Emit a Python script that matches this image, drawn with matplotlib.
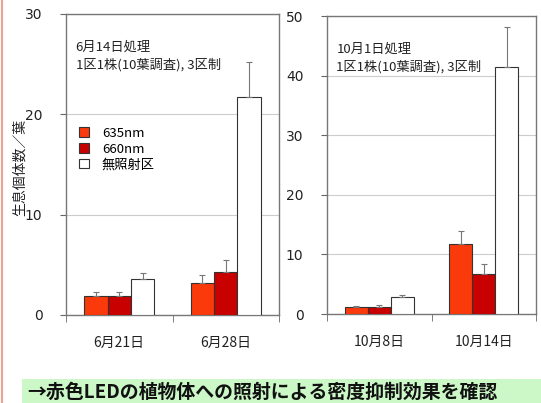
import matplotlib.pyplot as plt
import matplotlib.patches as mpatches
import numpy as np

plt.rcParams['font.family'] = ['Noto Sans CJK JP', 'DejaVu Sans']

# treatment series
series = ['635nm', '660nm', '無照射区']
colors = ['#FA3A0A', '#C80000', '#FFFFFF']

# June trial
jun_days = ['6月21日', '6月28日']
jun_mean = [[1.9, 3.2], [1.9, 4.3], [3.6, 21.7]]
jun_top = [[2.3, 4.0], [2.3, 5.5], [4.15, 25.2]]

# October trial
oct_days = ['10月8日', '10月14日']
oct_mean = [[1.2, 11.7], [1.2, 6.7], [2.8, 41.4]]
oct_top = [[1.4, 14.0], [1.5, 8.4], [3.2, 48.2]]

W, H = 541, 403
fig = plt.figure(figsize=(W / 100, H / 100), dpi=100)


def panel(rect, days, means, tops, ymax, note):
    ax = fig.add_axes(rect)
    x = np.arange(len(days))
    w = 0.22
    for i, (m, t) in enumerate(zip(means, tops)):
        err = np.array(t) - np.array(m)
        ax.bar(x + (i - 1) * w, m, w, color=colors[i], edgecolor='#333333',
               linewidth=0.8, zorder=3, label=series[i],
               yerr=[np.zeros(len(m)), err], capsize=2,
               error_kw=dict(ecolor='#777777', elinewidth=0.8, capthick=0.8))
    ax.set_xlim(-0.5, len(days) - 0.5)
    ax.set_ylim(0, ymax)
    ax.set_yticks(np.arange(0, ymax + 1, 10))
    ax.yaxis.grid(True, color='#cccccc', linewidth=0.8, zorder=0)
    ax.set_xticks(x)
    ax.set_xticklabels(days, fontsize=10, color='#222222')
    ax.set_xticks(np.arange(-0.5, len(days)), minor=True)
    ax.tick_params(axis='x', which='major', length=0, pad=15)
    ax.tick_params(axis='x', which='minor', length=5, color='#666666', direction='out')
    ax.tick_params(axis='y', length=4, color='#666666', direction='out', pad=13,
                   labelsize=10, labelcolor='#222222')
    for lab in ax.get_yticklabels():
        lab.set_family('DejaVu Sans')
    for s in ax.spines.values():
        s.set_color('#777777')
        s.set_linewidth(1)
    ax.text(0.045, 0.91, note, transform=ax.transAxes, fontsize=9.5,
            va='top', ha='left', linespacing=1.35, color='#222222')
    return ax


ax1 = panel([66 / W, 88 / H, 213 / W, 301 / H], jun_days, jun_mean, jun_top, 30,
            '6月14日処理\n1区1株(10葉調査), 3区制')
ax2 = panel([327 / W, 89 / H, 209 / W, 298 / H], oct_days, oct_mean, oct_top, 50,
            '10月1日処理\n1区1株(10葉調査), 3区制')

ax1.set_ylabel('生息個体数／葉', fontsize=10, labelpad=0, color='#222222')
ax1.yaxis.set_label_coords(-0.185, 0.49)

handles = [mpatches.Patch(facecolor=c, edgecolor='#333333', linewidth=0.8) for c in colors]
ax1.legend(handles, series, loc='upper left', bbox_to_anchor=(0.06, 0.625),
           frameon=False, fontsize=9.5, handlelength=0.75, handleheight=0.75,
           handletextpad=1.0, labelspacing=0.2, borderaxespad=0, borderpad=0)

# salmon edge line on the left
fig.add_artist(plt.Line2D([2 / W, 2 / W], [0, 1], color='#F0A090', linewidth=1.5))

# conclusion banner
fig.add_artist(mpatches.Rectangle((22 / W, 0), 1 - 22 / W, 24 / H,
                                  facecolor='#CCF8C8', edgecolor='none'))
fig.text(27 / W, 11 / H, '→赤色LEDの植物体への照射による密度抑制効果を確認',
         fontsize=13.6, fontweight='bold', va='center', ha='left', color='#111111')

fig.savefig('out.png', dpi=100)
